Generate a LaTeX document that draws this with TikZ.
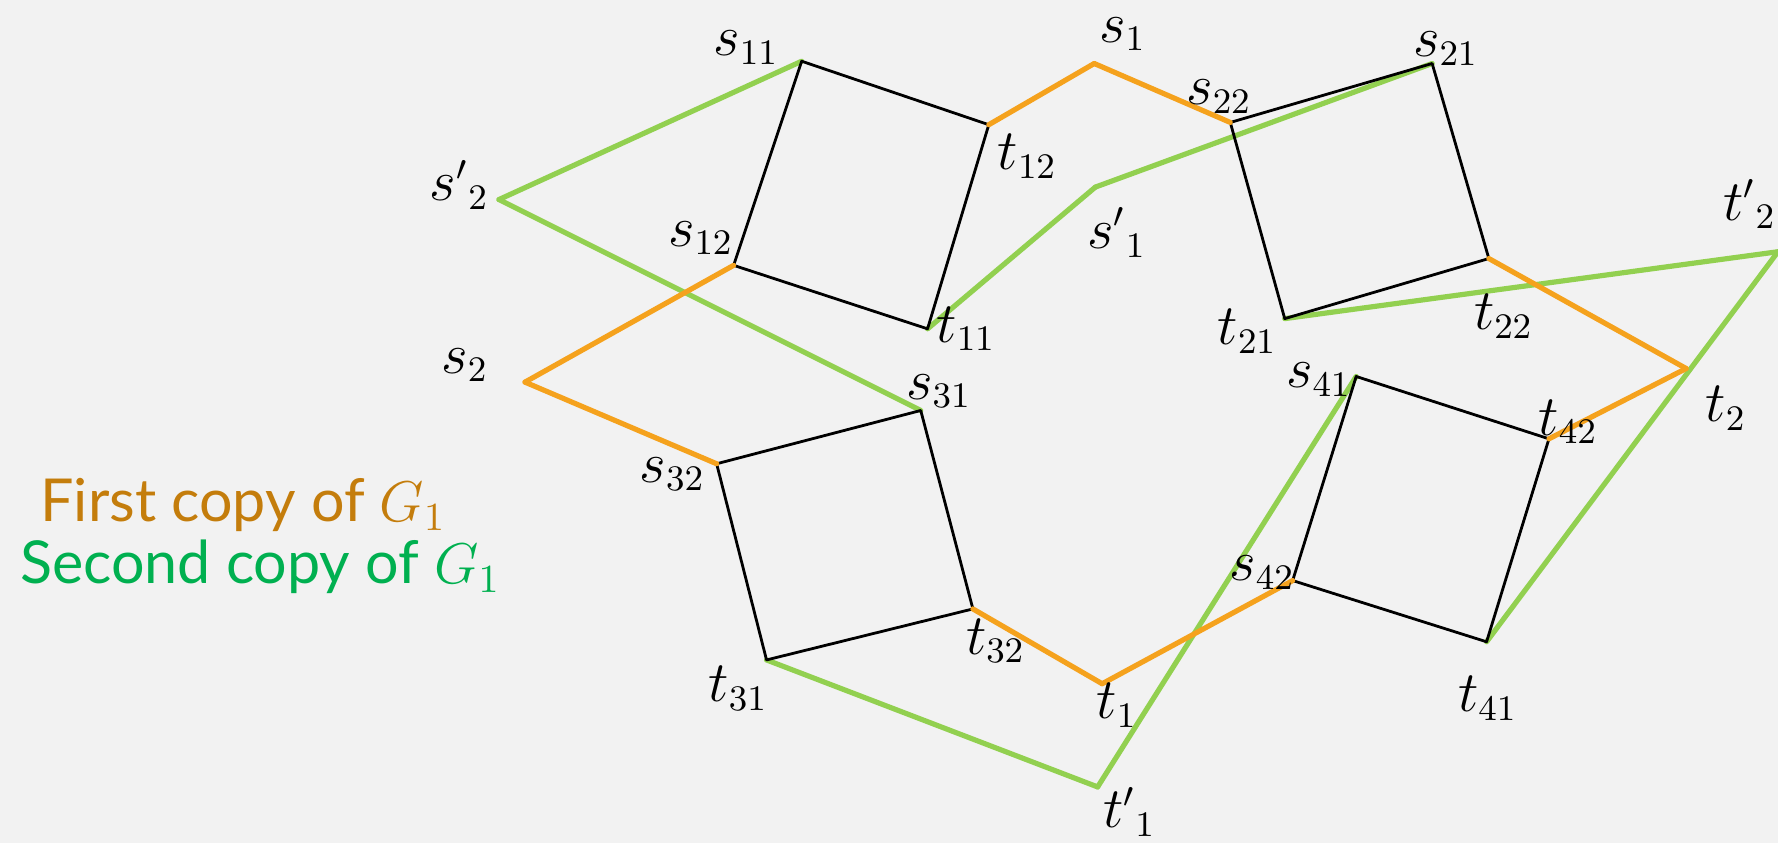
\documentclass[tikz,border=0pt]{standalone}
\usepackage{fontspec}
\newfontfamily\legendfont{Lato}
\definecolor{bgc}{HTML}{F2F2F2}
\definecolor{cam}{HTML}{F5A21D}
\definecolor{xanh}{HTML}{92D050}
\definecolor{chucam}{HTML}{C47D0C}
\definecolor{chuxanh}{HTML}{00B050}
\tikzset{
	canh/.style={black, line width=0.7pt},
	bancam/.style={cam, line width=1.3pt},
	banxanh/.style={xanh, line width=1.3pt},
	nhan/.style={inner sep=0pt, font=\fontsize{13.5}{15}\selectfont},
	chuthich/.style={inner sep=0pt, anchor=base west, font=\legendfont\fontsize{14.85}{18}\selectfont}
}
\begin{document}
\begin{tikzpicture}[x=0.01cm, y=-0.01cm, line join=round, line cap=round]
		\fill[bgc] (0,0) rectangle (1568,743);
		\useasboundingbox (0,0) rectangle (1568,743);
		% Đỉnh
		\coordinate (s11) at (707,54); \coordinate (t12) at (872,110); \coordinate (t11) at (818,290); \coordinate (s12) at (647,234);
		\coordinate (s22) at (1085,108); \coordinate (s21) at (1263,56); \coordinate (t22) at (1313,228); \coordinate (t21) at (1133,281);
		\coordinate (s32) at (632,409); \coordinate (s31) at (812,362); \coordinate (t32) at (858,537); \coordinate (t31) at (676,582);
		\coordinate (s41) at (1196,332); \coordinate (t42) at (1366,387); \coordinate (t41) at (1311,566); \coordinate (s42) at (1140,512);
		\coordinate (s1) at (965,56); \coordinate (s2) at (463,337); \coordinate (t1) at (972,603); \coordinate (t2) at (1487,325);
		\coordinate (s1p) at (966,165); \coordinate (s2p) at (440,176); \coordinate (t1p) at (968,694); \coordinate (t2p) at (1568,222);
		% Bản thứ hai
		\draw[banxanh] (s2p) -- (s11); \draw[banxanh] (s2p) -- (s31); \draw[banxanh] (t11) -- (s1p); \draw[banxanh] (s1p) -- (s21);
		\draw[banxanh] (t21) -- (t2p); \draw[banxanh] (t2p) -- (t41); \draw[banxanh] (t31) -- (t1p); \draw[banxanh] (t1p) -- (s41);
		% Hình vuông
		\draw[canh] (s11) -- (t12) -- (t11) -- (s12) -- cycle;
		\draw[canh] (s22) -- (s21) -- (t22) -- (t21) -- cycle;
		\draw[canh] (s32) -- (s31) -- (t32) -- (t31) -- cycle;
		\draw[canh] (s41) -- (t42) -- (t41) -- (s42) -- cycle;
		% Bản thứ nhất
		\draw[bancam] (s2) -- (s12); \draw[bancam] (s2) -- (s32); \draw[bancam] (t12) -- (s1); \draw[bancam] (s1) -- (s22);
		\draw[bancam] (t22) -- (t2); \draw[bancam] (t2) -- (t42); \draw[bancam] (t32) -- (t1); \draw[bancam] (t1) -- (s42);
		% Nhãn
		\node[nhan] (ls11) at (658,42) {$s_{11}$}; \node[nhan] (lt12) at (906,138) {$t_{12}$}; \node[nhan] (ls12) at (618,210) {$s_{12}$}; \node[nhan] (lt11) at (852,290) {$t_{11}$};
		\node[nhan] (ls22) at (1075,85) {$s_{22}$}; \node[nhan] (ls21) at (1275,43) {$s_{21}$}; \node[nhan] (lt22) at (1326,279) {$t_{22}$}; \node[nhan] (lt21) at (1100,292) {$t_{21}$};
		\node[nhan] (ls31) at (828,345) {$s_{31}$}; \node[nhan] (ls32) at (593,418) {$s_{32}$}; \node[nhan] (lt32) at (878,565) {$t_{32}$}; \node[nhan] (lt31) at (651,607) {$t_{31}$};
		\node[nhan] (ls41) at (1163,335) {$s_{41}$}; \node[nhan] (lt42) at (1383,372) {$t_{42}$}; \node[nhan] (ls42) at (1113,505) {$s_{42}$}; \node[nhan] (lt41) at (1312,616) {$t_{41}$};
		\node[nhan] (ls1) at (990,30) {$s_1$}; \node[nhan] (ls2) at (410,322) {$s_2$}; \node[nhan] (lt1) at (985,622) {$t_1$}; \node[nhan] (lt2) at (1522,360) {$t_2$};
		\node[nhan] (ls1p) at (985,205) {${s'}_1$}; \node[nhan] (ls2p) at (405,163) {${s'}_2$}; \node[nhan] (lt1p) at (996,716) {${t'}_1$}; \node[nhan] (lt2p) at (1543,180) {${t'}_2$};
		% Chú thích
		\node[chuthich, text=chucam] (first) at (35,460) {First copy of $G_1$};
		\node[chuthich, text=chuxanh] (second) at (17,515) {Second copy of $G_1$};
\end{tikzpicture}
\end{document}
